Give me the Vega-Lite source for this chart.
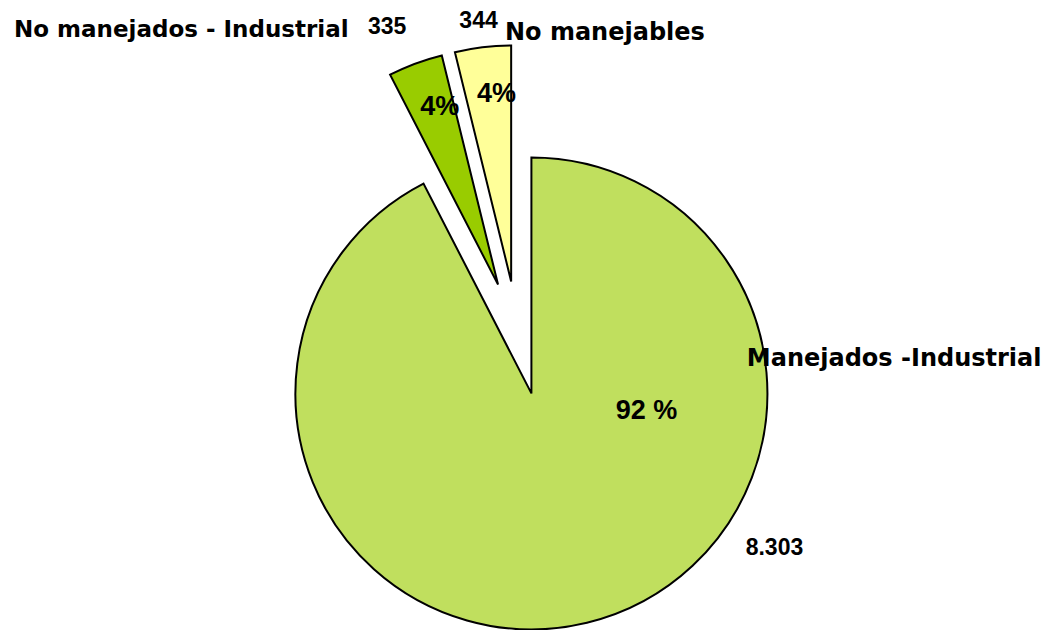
{
  "$schema": "https://vega.github.io/schema/vega-lite/v6.json",
  "width": 472,
  "height": 472,
  "autosize": {"type": "none"},
  "padding": {"left": 282, "top": 102, "right": 292, "bottom": 56},
  "background": "white",
  "config": {
    "view": {"stroke": null},
    "locale": {"number": {"decimal": ",", "thousands": ".", "grouping": [3], "currency": ["", ""]}}
  },
  "data": {
    "values": [
      {"categoria": "Manejados -Industrial", "valor": 8303, "orden": 1, "porcentaje": "92 %"},
      {"categoria": "No manejados - Industrial", "valor": 335, "orden": 2, "porcentaje": "4%"},
      {"categoria": "No manejables", "valor": 344, "orden": 3, "porcentaje": "4%"}
    ]
  },
  "encoding": {
    "theta": {"field": "valor", "type": "quantitative", "stack": true},
    "order": {"field": "orden", "type": "quantitative"}
  },
  "layer": [
    {
      "mark": {
        "type": "arc",
        "stroke": "black",
        "strokeWidth": 2,
        "xOffset": {"expr": "57*sin(scale('theta',(datum.valor_start+datum.valor_end)/2))"},
        "yOffset": {"expr": "-57*cos(scale('theta',(datum.valor_start+datum.valor_end)/2))"}
      },
      "encoding": {
        "color": {
          "field": "categoria",
          "type": "nominal",
          "scale": {
            "domain": ["Manejados -Industrial", "No manejados - Industrial", "No manejables"],
            "range": ["#C0DF5E", "#99CC00", "#FFFF99"]
          },
          "legend": null
        }
      }
    },
    {
      "mark": {"type": "text", "radius": 83, "dx": 109, "align": "center", "baseline": "alphabetic", "font": "Liberation Sans", "fontWeight": "bold", "fontSize": 27, "fill": "black"},
      "encoding": {"text": {"condition": {"test": "datum.categoria === 'Manejados -Industrial'", "field": "porcentaje"}, "value": ""}}
    },
    {
      "mark": {"type": "text", "radius": 223, "dx": 204, "align": "center", "baseline": "alphabetic", "font": "Liberation Sans", "fontWeight": "bold", "fontSize": 23, "fill": "black"},
      "encoding": {"text": {"condition": {"test": "datum.categoria === 'Manejados -Industrial'", "field": "valor", "type": "quantitative", "format": ",d"}, "value": ""}}
    },
    {
      "mark": {"type": "text", "radius": 29, "dx": 222, "align": "left", "baseline": "alphabetic", "font": "DejaVu Sans", "fontWeight": "bold", "fontSize": 24, "fill": "black"},
      "encoding": {"text": {"condition": {"test": "datum.categoria === 'Manejados -Industrial'", "field": "categoria"}, "value": ""}}
    },
    {
      "mark": {"type": "text", "radius": 238, "dx": 5, "align": "center", "baseline": "alphabetic", "font": "Liberation Sans", "fontWeight": "bold", "fontSize": 27, "fill": "black"},
      "encoding": {"text": {"condition": {"test": "datum.categoria === 'No manejados - Industrial'", "field": "porcentaje"}, "value": ""}}
    },
    {
      "mark": {"type": "text", "radius": 325, "dx": -17, "align": "center", "baseline": "alphabetic", "font": "Liberation Sans", "fontWeight": "bold", "fontSize": 23, "fill": "black"},
      "encoding": {"text": {"condition": {"test": "datum.categoria === 'No manejados - Industrial'", "field": "valor", "type": "quantitative", "format": ",d"}, "value": ""}}
    },
    {
      "mark": {"type": "text", "radius": 321, "dx": -57, "align": "right", "baseline": "alphabetic", "font": "DejaVu Sans", "fontWeight": "bold", "fontSize": 23, "fill": "black"},
      "encoding": {"text": {"condition": {"test": "datum.categoria === 'No manejados - Industrial'", "field": "categoria"}, "value": ""}}
    },
    {
      "mark": {"type": "text", "radius": 238, "dx": 7, "align": "center", "baseline": "alphabetic", "font": "Liberation Sans", "fontWeight": "bold", "fontSize": 27, "fill": "black"},
      "encoding": {"text": {"condition": {"test": "datum.categoria === 'No manejables'", "field": "porcentaje"}, "value": ""}}
    },
    {
      "mark": {"type": "text", "radius": 312, "dx": -2, "align": "center", "baseline": "alphabetic", "font": "Liberation Sans", "fontWeight": "bold", "fontSize": 23, "fill": "black"},
      "encoding": {"text": {"condition": {"test": "datum.categoria === 'No manejables'", "field": "valor", "type": "quantitative", "format": ",d"}, "value": ""}}
    },
    {
      "mark": {"type": "text", "radius": 300, "dx": 23, "align": "left", "baseline": "alphabetic", "font": "DejaVu Sans", "fontWeight": "bold", "fontSize": 24, "fill": "black"},
      "encoding": {"text": {"condition": {"test": "datum.categoria === 'No manejables'", "field": "categoria"}, "value": ""}}
    }
  ]
}
